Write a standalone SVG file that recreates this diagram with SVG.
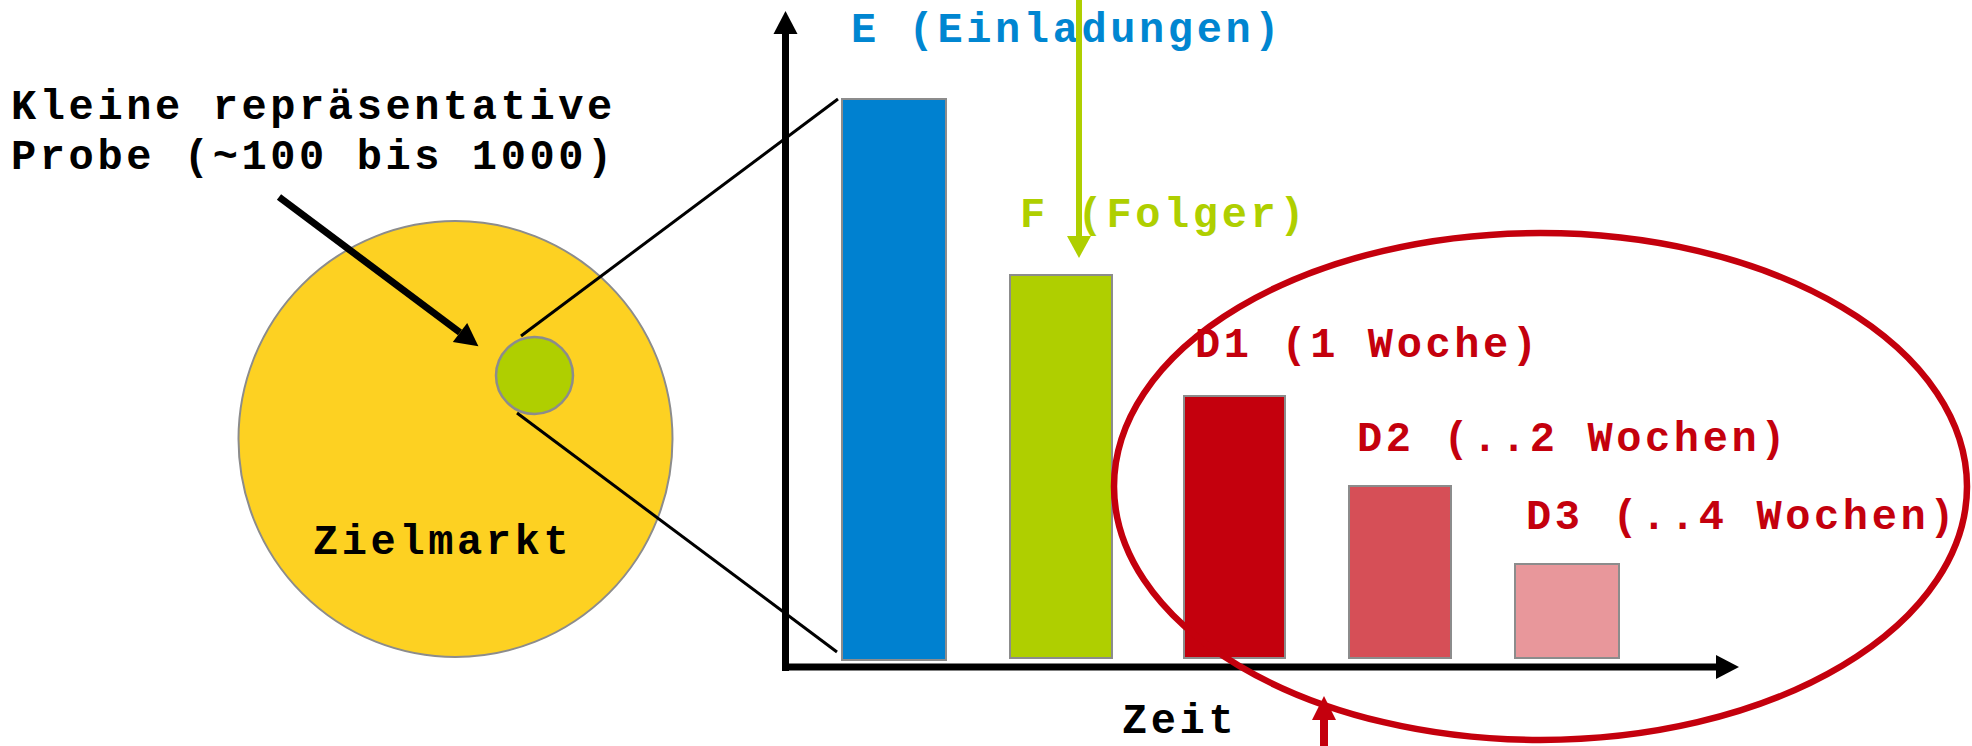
<svg xmlns="http://www.w3.org/2000/svg" width="1972" height="746" viewBox="0 0 1972 746">
  <style>
    .t { font-family: "Courier New", "Liberation Mono", "DejaVu Sans Mono", monospace; font-weight: bold; font-size: 42px; letter-spacing: 3.6px; }
    .blk { fill: #000; }
    .blue { fill: #0086D1; }
    .grn { fill: #AFCF00; }
    .red { fill: #C4000D; }
    .bar { stroke: #8C8C8C; stroke-width: 2; }
    .thin { stroke: #000; stroke-width: 3; fill: none; }
    .axis { stroke: #000; stroke-width: 7; fill: none; }
  </style>
  <defs>
    <marker id="ahBlack" markerUnits="userSpaceOnUse" markerWidth="30" markerHeight="30" refX="0" refY="12" orient="auto" overflow="visible">
      <path d="M0,0 L23,12 L0,24 z" fill="#000"/>
    </marker>
    <marker id="ahGreen" markerUnits="userSpaceOnUse" markerWidth="30" markerHeight="30" refX="0" refY="12" orient="auto" overflow="visible">
      <path d="M0,0 L22,12 L0,24 z" fill="#AFCF00"/>
    </marker>
    <marker id="ahRed" markerUnits="userSpaceOnUse" markerWidth="30" markerHeight="30" refX="0" refY="12" orient="auto" overflow="visible">
      <path d="M0,0 L24,12 L0,24 z" fill="#C4000D"/>
    </marker>
  </defs>

  <g id="zielmarkt">
    <ellipse cx="455.5" cy="439" rx="217" ry="218" fill="#FDD122" stroke="#8C8C8C" stroke-width="2"/>
    <text class="t blk" x="313" y="554">Zielmarkt</text>
  </g>

  <g id="probe">
    <circle cx="534.5" cy="375.5" r="38.5" fill="#AFCF00" stroke="#8C8C8C" stroke-width="2.5"/>
  </g>

  <g id="probe-label">
    <text class="t blk" x="11" y="119">Kleine repräsentative</text>
    <text class="t blk" x="11" y="169">Probe (~100 bis 1000)</text>
  </g>

  <g id="bar-E">
    <rect class="bar" x="842" y="99" width="104" height="561" fill="#0081D0"/>
    <text class="t blue" x="851" y="42">E (Einladungen)</text>
  </g>

  <g id="bar-F">
    <rect class="bar" x="1010" y="275" width="102" height="383" fill="#AFCF00"/>
    <text class="t grn" x="1020" y="227">F (Folger)</text>
  </g>

  <g id="bar-D1">
    <rect class="bar" x="1184" y="396" width="101" height="262" fill="#C4000D"/>
    <text class="t red" x="1195" y="357">D1 (1 Woche)</text>
  </g>

  <g id="bar-D2">
    <rect class="bar" x="1349" y="486" width="102" height="172" fill="#D64F57"/>
    <text class="t red" x="1357" y="451">D2 (..2 Wochen)</text>
  </g>

  <g id="bar-D3">
    <rect class="bar" x="1515" y="564" width="104" height="94" fill="#E8979B"/>
    <text class="t red" x="1526" y="529">D3 (..4 Wochen)</text>
  </g>

  <g id="axes">
    <line class="axis" x1="785.5" y1="671" x2="785.5" y2="34" marker-end="url(#ahBlack)"/>
    <line class="axis" x1="782" y1="667" x2="1716" y2="667" marker-end="url(#ahBlack)"/>
    <text class="t blk" x="1122" y="733">Zeit</text>
  </g>

  <g id="connectors">
    <line class="thin" x1="521" y1="336" x2="838" y2="99"/>
    <line class="thin" x1="517" y1="413" x2="837" y2="652"/>
    <line x1="279" y1="197" x2="460" y2="332.5" stroke="#000" stroke-width="7" marker-end="url(#ahBlack)"/>
    <line x1="1079" y1="0" x2="1079" y2="236" stroke="#AFCF00" stroke-width="6" marker-end="url(#ahGreen)"/>
    <ellipse cx="1540.5" cy="486.5" rx="426.5" ry="253.5" fill="none" stroke="#C4000D" stroke-width="6.5"/>
    <line x1="1324" y1="746" x2="1324" y2="720" stroke="#C4000D" stroke-width="8" marker-end="url(#ahRed)"/>
  </g>
</svg>
